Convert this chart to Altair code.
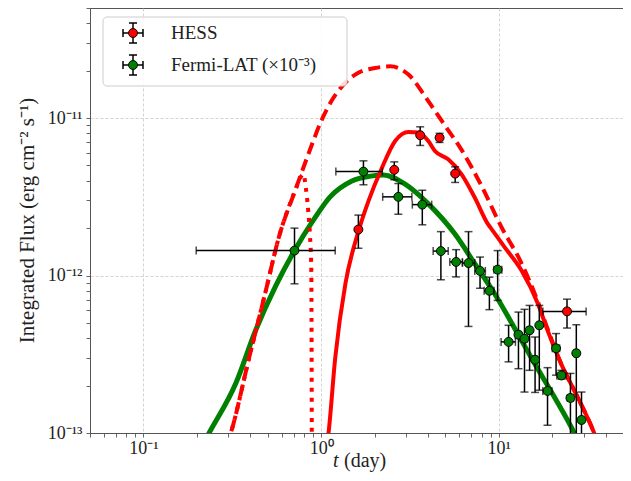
import altair as alt
import pandas as pd

# ---------------- data ----------------
hess_t = [1.62, 2.58, 3.61, 4.64, 5.68, 24.2]
hess_t_lo = [1.62, 2.58, 3.61, 4.64, 5.68, 17.7]
hess_t_hi = [1.62, 2.58, 3.61, 4.64, 5.68, 31.0]
hess_f = [1.96e-12, 4.69e-12, 7.78e-12, 7.5e-12, 4.44e-12, 5.92e-13]
hess_f_lo = [1.49e-12, 4.06e-12, 6.7e-12, 7.0e-12, 3.9e-12, 4.64e-13]
hess_f_hi = [2.42e-12, 5.27e-12, 8.8e-12, 8.0e-12, 4.9e-12, 7.08e-13]

fermi_t = [0.708, 1.73, 2.72, 3.71, 4.72, 5.75, 6.75, 7.84, 8.85, 9.85, 11.35,
           12.9, 13.95, 14.9, 16.0, 16.9, 18.8, 21.0, 22.5, 25.3, 27.3, 29.2]
fermi_t_lo = [0.198, 1.21, 2.22, 3.26, 4.27, 5.30, 6.24, 7.32, 8.27, 9.39, 10.3,
              12.4, 13.45, 14.4, 15.5, 16.45, 17.7, 20.0, 21.2, 24.3, 26.5, 28.4]
fermi_t_hi = [1.20, 2.21, 3.24, 4.19, 5.19, 6.24, 7.32, 8.40, 9.40, 10.4, 12.4,
              13.4, 14.45, 15.4, 16.5, 17.4, 19.9, 22.0, 23.9, 26.3, 28.1, 30.0]
fermi_f = [1.44e-12, 4.57e-12, 3.16e-12, 2.82e-12, 1.43e-12, 1.22e-12, 1.20e-12,
           1.07e-12, 8.0e-13, 1.09e-12, 3.79e-13, 4.21e-13, 3.97e-13, 4.49e-13,
           2.92e-13, 4.83e-13, 1.85e-13, 3.45e-13, 2.32e-13, 1.67e-13, 3.21e-13, 1.21e-13]
fermi_f_lo = [8.86e-13, 3.77e-12, 2.45e-12, 2.10e-12, 9.4e-13, 9.8e-13, 4.75e-13,
              8.3e-13, 6.07e-13, 6.95e-13, 2.83e-13, 2.56e-13, 1.82e-13, 2.5e-13,
              1.81e-13, 1.87e-13, 1.12e-13, 2.33e-13, 2.2e-13, 8e-14, 8e-14, 8e-14]
fermi_f_hi = [2.0e-12, 5.35e-12, 3.84e-12, 3.48e-12, 1.90e-12, 1.46e-12, 1.9e-12,
              1.31e-12, 9.76e-13, 1.44e-12, 4.83e-13, 5.86e-13, 6.1e-13, 6.46e-13,
              4.07e-13, 6.46e-13, 2.6e-13, 4.28e-13, 2.5e-13, 2.39e-13, 4.87e-13, 1.82e-13]

green_t = [0.21, 0.234, 0.331, 0.428, 0.555, 0.708, 0.9, 1.12, 1.49, 1.9, 2.24,
           2.97, 4.01, 5.65, 7.32, 9.47, 13.4, 15.9, 20.5, 26.6, 28.5]
green_f = [8e-14, 1.0e-13, 2.07e-13, 4.49e-13, 8.6e-13, 1.44e-12, 2.23e-12, 3.15e-12,
           3.99e-12, 4.28e-12, 4.35e-12, 3.8e-12, 2.85e-12, 1.84e-12, 1.19e-12,
           7.66e-13, 3.88e-13, 2.76e-13, 1.70e-13, 1.0e-13, 8.5e-14]

dash_t = [0.29, 0.31, 0.393, 0.488, 0.578, 0.719, 0.853, 0.991, 1.10, 1.31, 1.62,
          2.01, 2.45, 3.10, 4.01, 5.0, 6.16, 8.0, 10.3, 13.4, 16.6, 18.8, 22.4,
          27.7, 34.4, 37.0]
dash_f = [8e-14, 1e-13, 3.0e-13, 8.0e-13, 1.75e-12, 3.54e-12, 6.02e-12, 9.33e-12,
          1.19e-11, 1.59e-11, 1.94e-11, 2.08e-11, 2.13e-11, 1.89e-11, 1.28e-11,
          8.9e-12, 6.3e-12, 3.7e-12, 2.05e-12, 1.2e-12, 6.8e-13, 4.6e-13, 2.76e-13,
          1.7e-13, 1.0e-13, 8e-14]

solid_t = [1.07, 1.10, 1.2, 1.37, 1.62, 1.85, 2.20, 2.61, 3.10, 3.52, 4.01, 4.37,
           5.19, 6.16, 7.32, 8.69, 9.08, 10.8, 13.4, 16.6, 18.8, 22.4, 27.7, 34.4, 37.0]
solid_f = [8e-14, 1e-13, 3.0e-13, 8.9e-13, 1.9e-12, 2.99e-12, 4.84e-12, 7.15e-12,
           8.15e-12, 8.1e-12, 7.15e-12, 6.18e-12, 5.47e-12, 4.41e-12, 3.13e-12,
           2.12e-12, 1.98e-12, 1.51e-12, 1.08e-12, 6.62e-13, 4.49e-13, 2.76e-13,
           1.7e-13, 1.0e-13, 8e-14]

dot_t = [0.29, 0.31, 0.393, 0.488, 0.578, 0.719, 0.765, 0.795, 0.82, 0.845, 0.865,
         0.880, 0.886]
dot_f = [8e-14, 1e-13, 3.0e-13, 8.0e-13, 1.75e-12, 3.54e-12, 4.2e-12, 4.4e-12,
         3.6e-12, 2.6e-12, 1.8e-12, 1.1e-12, 8e-14]

legend_labels = ["HESS", "Fermi-LAT (×10⁻³)"]
legend_colors = ["#ff0000", "#008000"]

# ---------------- styling ----------------
FONT = "Liberation Serif"
RED = "#ff0000"
GREEN = "#008000"
AXC = "#555555"
TXT = "#222222"

xscale = alt.Scale(type="log", domain=[0.05, 50], nice=False)
yscale = alt.Scale(type="log", domain=[1e-13, 5e-11], nice=False)

xticks = [k * 10.0 ** e for e in (-2, -1, 0, 1) for k in range(1, 10)]
xticks = [v for v in xticks if 0.0499 <= v <= 50.01]
yticks = [k * 10.0 ** e for e in (-13, -12, -11) for k in range(1, 10)]
yticks = [v for v in yticks if v <= 5.01e-11]

DEC = "abs(log(datum.value)/LN10 - round(log(datum.value)/LN10)) < 0.001"
EXP = "round(log(datum.value)/LN10)"

xlab = (f"{DEC} ? ({EXP} == -1 ? '10⁻¹' : {EXP} == 0 ? '10⁰' : {EXP} == 1 ? '10¹' : '') : ''")
ylab = (f"{DEC} ? ({EXP} == -13 ? '10⁻¹³' : {EXP} == -12 ? '10⁻¹²' : {EXP} == -11 ? '10⁻¹¹' : '') : ''")

common_axis = dict(
    grid=True,
    gridOpacity={"condition": {"test": DEC, "value": 1}, "value": 0},
    gridDash=[3, 2],
    gridColor="#c8c8c8",
    gridWidth=0.8,
    tickSize=4,
    tickColor=AXC,
    tickWidth=0.9,
    domainColor=AXC,
    labelFont=FONT,
    labelFontSize=18,
    labelColor=TXT,
    labelOverlap=False,
    labelFlush=False,
    titleFont=FONT,
    titleFontWeight="normal",
    titleColor=TXT,
)

xaxis = alt.Axis(values=xticks, labelExpr=xlab, labelPadding=2, title=None,
                 **common_axis)
yaxis = alt.Axis(values=yticks, labelExpr=ylab, labelPadding=4,
                 title="Integrated Flux (erg cm⁻² s⁻¹)", titleX=-57, titleY=212,
                 titleBaseline="alphabetic", titleAngle=-90,
                 titleFontSize=21, **common_axis)

# ---------------- data frames ----------------
green_df = pd.DataFrame({"t": green_t, "f": green_f})
dash_df = pd.DataFrame({"t": dash_t, "f": dash_f})
solid_df = pd.DataFrame({"t": solid_t, "f": solid_f})
dot_df = pd.DataFrame({"t": dot_t, "f": dot_f})
hess_df = pd.DataFrame({"t": hess_t, "t_lo": hess_t_lo, "t_hi": hess_t_hi,
                        "f": hess_f, "f_lo": hess_f_lo, "f_hi": hess_f_hi})
fermi_df = pd.DataFrame({"t": fermi_t, "t_lo": fermi_t_lo, "t_hi": fermi_t_hi,
                         "f": fermi_f, "f_lo": fermi_f_lo, "f_hi": fermi_f_hi})


def X(field):
    return alt.X(f"{field}:Q", scale=xscale, axis=xaxis)


def Y(field):
    return alt.Y(f"{field}:Q", scale=yscale, axis=yaxis)


layers = []

# curves
layers.append(alt.Chart(green_df).mark_line(color=GREEN, strokeWidth=5, clip=True,
                                            interpolate="monotone")
              .encode(x=X("t"), y=Y("f")))
layers.append(alt.Chart(dash_df).mark_line(color=RED, strokeWidth=4, strokeDash=[12, 6],
                                           clip=True, interpolate="monotone")
              .encode(x=X("t"), y=Y("f")))
layers.append(alt.Chart(solid_df).mark_line(color=RED, strokeWidth=4, clip=True,
                                            interpolate="monotone")
              .encode(x=X("t"), y=Y("f")))
layers.append(alt.Chart(dot_df).mark_line(color=RED, strokeWidth=4, strokeDash=[4, 6],
                                          clip=True, interpolate="monotone")
              .encode(x=X("t"), y=Y("f")))

# error bars + markers
for df, col in ((fermi_df, GREEN), (hess_df, RED)):
    layers.append(alt.Chart(df).mark_rule(color="black", strokeWidth=1.5, clip=True)
                  .encode(x=X("t"), y=Y("f_lo"), y2="f_hi:Q"))
    layers.append(alt.Chart(df).mark_rule(color="black", strokeWidth=1.5, clip=True)
                  .encode(x=X("t_lo"), x2="t_hi:Q", y=Y("f")))
    for fy in ("f_lo", "f_hi"):
        layers.append(alt.Chart(df).mark_tick(color="black", thickness=1.5, size=8,
                                              orient="horizontal", clip=True)
                      .encode(x=X("t"), y=Y(fy)))
    for tx in ("t_lo", "t_hi"):
        layers.append(alt.Chart(df).transform_filter("datum.t_hi > datum.t_lo")
                      .mark_tick(color="black", thickness=1.5, size=8,
                                 orient="vertical", clip=True)
                      .encode(x=X(tx), y=Y("f")))
    layers.append(alt.Chart(df).mark_point(filled=True, fill=col, fillOpacity=1,
                                           stroke="black", strokeWidth=1,
                                           shape="circle", size=80, clip=True)
                  .encode(x=X("t"), y=Y("f")))

# ---------------- x-axis title: italic t + (day) ----------------
title_df = pd.DataFrame({"a": [0]})
layers.append(alt.Chart(title_df).mark_text(font=FONT, fontSize=20, fontStyle="italic",
                                            align="left", baseline="alphabetic", color=TXT,
                                            text="t")
              .encode(x=alt.value(243), y=alt.value(459)))
layers.append(alt.Chart(title_df).mark_text(font=FONT, fontSize=20, align="left",
                                            baseline="alphabetic", color=TXT,
                                            text="(day)")
              .encode(x=alt.value(254), y=alt.value(459)))

# ---------------- legend (layout in pixels of the plot area) ----------------
leg_df = pd.DataFrame({"label": legend_labels, "color": legend_colors,
                       "yy": [25, 57], "ya": [15, 47], "yb": [35, 67]})
LX = 43
layers.append(alt.Chart(leg_df.head(1)).mark_rect(fill="white", fillOpacity=0.85,
                                                  stroke="#cccccc", strokeWidth=1,
                                                  cornerRadius=4)
              .encode(x=alt.value(13), x2=alt.value(257), y=alt.value(9), y2=alt.value(78)))
for _, r in leg_df.iterrows():
    yy, ya, yb = int(r["yy"]), int(r["ya"]), int(r["yb"])
    one = pd.DataFrame({"label": [r["label"]], "color": [r["color"]]})
    layers.append(alt.Chart(one).mark_rule(color="black", strokeWidth=1.5)
                  .encode(x=alt.value(LX - 10), x2=alt.value(LX + 10), y=alt.value(yy)))
    layers.append(alt.Chart(one).mark_rule(color="black", strokeWidth=1.5)
                  .encode(x=alt.value(LX), y=alt.value(ya), y2=alt.value(yb)))
    for dx in (-10, 10):
        layers.append(alt.Chart(one).mark_rule(color="black", strokeWidth=1.5)
                      .encode(x=alt.value(LX + dx), y=alt.value(yy - 4), y2=alt.value(yy + 4)))
    for yc in (ya, yb):
        layers.append(alt.Chart(one).mark_rule(color="black", strokeWidth=1.5)
                      .encode(x=alt.value(LX - 4), x2=alt.value(LX + 4), y=alt.value(yc)))
    layers.append(alt.Chart(one).mark_point(filled=True, fillOpacity=1, stroke="black",
                                            strokeWidth=1, shape="circle", size=80,
                                            fill=r["color"])
                  .encode(x=alt.value(LX), y=alt.value(yy)))
    layers.append(alt.Chart(one).mark_text(font=FONT, fontSize=19, align="left",
                                           baseline="middle", color=TXT)
                  .encode(x=alt.value(81), y=alt.value(yy), text="label:N"))

chart = (alt.layer(*layers)
         .properties(width=533, height=425,
                     autosize=alt.AutoSizeParams(type="none"),
                     padding={"left": 82, "top": 0, "right": 0, "bottom": 40})
         .configure_view(stroke=AXC, strokeWidth=1))

chart.save("out.html", embed_options={"renderer": "svg", "actions": False})
